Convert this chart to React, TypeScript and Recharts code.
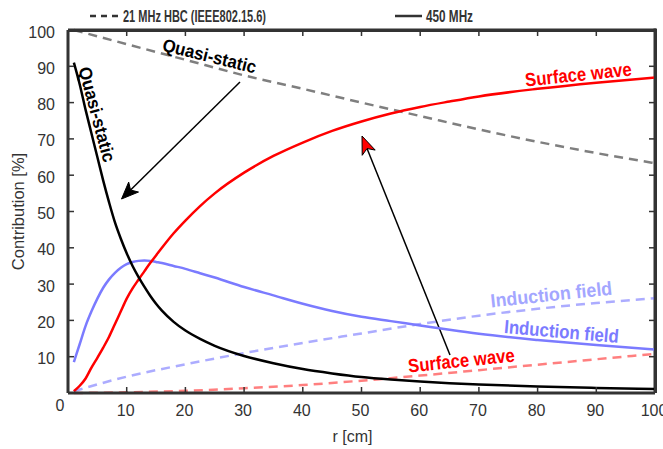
import { LineChart, Line, XAxis, YAxis, Label, Customized } from "recharts";

// 450 MHz curves (solid)
const R_450 = [1, 2, 3, 4, 5, 6, 7, 8, 9, 10, 11, 12, 13, 14, 15, 16, 18, 20, 22.5, 25, 30, 35, 40, 45, 50, 55, 60, 65, 70, 80, 90, 100];
const QUASI_STATIC_450 = [91, 85, 78, 71.5, 65, 58.5, 52.5, 47, 42.5, 38.5, 35, 32, 29.3, 26.8, 24.6, 22.7, 19.6, 17.2, 14.9, 13, 10.2, 8.2, 6.6, 5.4, 4.4, 3.7, 3.15, 2.7, 2.35, 1.8, 1.4, 1.1];
const INDUCTION_450 = [8.5, 13.5, 18.5, 22.5, 26, 29, 31.3, 33.1, 34.5, 35.5, 36.1, 36.4, 36.5, 36.4, 36.1, 35.8, 35, 34.2, 33, 31.8, 29.2, 26.9, 24.6, 22.6, 21, 19.8, 18.6, 17.4, 16.3, 14.6, 13.2, 12];
const SURFACE_450 = [0.5, 2, 4, 7, 9.7, 12.5, 15.5, 19, 22.5, 26, 28.8, 31.2, 33.5, 35.8, 37.9, 40, 44, 47.5, 51.5, 55, 60.7, 65.3, 69, 72.2, 74.8, 77, 78.8, 80.3, 81.7, 83.8, 85.5, 86.9];

// 21 MHz HBC curves (dashed)
const R_21 = [1, 10, 20, 30, 40, 50, 60, 70, 80, 90, 100];
const QUASI_STATIC_21 = [100, 96.1, 91.8, 87.5, 83.8, 80, 76.3, 72.6, 69.2, 66.1, 63.3];
const INDUCTION_21 = [0.5, 4.5, 7.9, 11, 13.8, 16.4, 19, 21.3, 23.2, 24.8, 26.1];
const SURFACE_21 = [0, 0.2, 0.6, 1.3, 2.2, 3.4, 4.8, 6.3, 7.8, 9.3, 10.8];

const X_TICKS = [0, 10, 20, 30, 40, 50, 60, 70, 80, 90, 100];
const Y_TICKS = [10, 20, 30, 40, 50, 60, 70, 80, 90, 100];
const INNER_TICKS = [10, 20, 30, 40, 50, 60, 70, 80, 90];

const W = 663;
const H = 449;
const LEFT = 68;
const RIGHT = 655;
const TOP = 30;
const BOTTOM = 393;
const AXIS = "#333";
const FONT = "'Liberation Sans', Arial, sans-serif";
const NARROW = "'Liberation Sans Narrow', 'Arial Narrow', 'Liberation Sans', Arial, sans-serif";

const rows = (rs: number[], vs: number[]) => rs.map((r, i) => ({ r, v: vs[i] }));
// frame helpers (same plot box as the chart margins give)
const fx = (v: number) => LEFT + (v / 100) * (RIGHT - LEFT);
const fy = (v: number) => BOTTOM - (v / 100) * (BOTTOM - TOP);

const BottomTick = (props: any) => {
  const { x, payload } = props;
  const v = payload.value;
  return (
    <g>
      {v > 0 && v < 100 && <line x1={x} x2={x} y1={BOTTOM} y2={BOTTOM - 6} stroke={AXIS} strokeWidth={1.5} />}
      <text x={v === 0 ? x - 8 : x - 1} y={v === 0 ? 411 : 416} textAnchor="middle" fontFamily={FONT} fontSize={16} fill={AXIS}>
        {v}
      </text>
    </g>
  );
};

const LeftTick = (props: any) => {
  const { y, payload } = props;
  const v = payload.value;
  return (
    <g>
      {v < 100 && <line x1={LEFT} x2={LEFT + 6} y1={y} y2={y} stroke={AXIS} strokeWidth={1.5} />}
      <text x={55} y={y + 7.5} textAnchor="end" fontFamily={FONT} fontSize={16} fill={AXIS}>
        {v}
      </text>
    </g>
  );
};

function Arrow({ x1, y1, x2, y2, fill, len, wid }: any) {
  const dx = x2 - x1;
  const dy = y2 - y1;
  const d = Math.hypot(dx, dy);
  const ux = dx / d;
  const uy = dy / d;
  const bx = x2 - ux * len;
  const by = y2 - uy * len;
  const nx = bx + ux * len * 0.25;
  const ny = by + uy * len * 0.25;
  const px = -uy * (wid / 2);
  const py = ux * (wid / 2);
  return (
    <g>
      <line x1={x1} y1={y1} x2={nx} y2={ny} stroke="#000" strokeWidth={1.5} />
      <polygon
        points={`${x2},${y2} ${bx + px},${by + py} ${nx},${ny} ${bx - px},${by - py}`}
        fill={fill}
        stroke="#000"
        strokeWidth={1}
      />
    </g>
  );
}

function Note({ x, y, angle, len, color, size, children }: any) {
  return (
    <text
      x={x}
      y={y}
      transform={`rotate(${angle} ${x} ${y})`}
      textAnchor="middle"
      fontFamily={NARROW}
      fontWeight="bold"
      fontSize={size}
      fill={color}
      textLength={len}
      lengthAdjust="spacingAndGlyphs"
    >
      {children}
    </text>
  );
}

function Annotations() {
  return (
    <g>
      {/* top and right sides of the box with inward ticks */}
      <rect x={LEFT} y={TOP - 1.5} width={RIGHT - LEFT + 1.5} height={3} fill={AXIS} />
      <rect x={RIGHT - 1.5} y={TOP - 1.5} width={3} height={BOTTOM - TOP + 1.5} fill={AXIS} />
      {INNER_TICKS.map((t) => (
        <rect key={`tt${t}`} x={fx(t) - 0.75} y={TOP} width={1.5} height={6} fill={AXIS} />
      ))}
      {INNER_TICKS.map((t) => (
        <rect key={`rt${t}`} x={RIGHT - 6} y={fy(t) - 0.75} width={6} height={1.5} fill={AXIS} />
      ))}

      {/* legend */}
      <line x1={90} x2={118} y1={16} y2={16} stroke={AXIS} strokeWidth={2.5} strokeDasharray="6 5" />
      <text x={123} y={22} fontFamily={NARROW} fontWeight="bold" fontSize={16.5} fill={AXIS} textLength={143} lengthAdjust="spacingAndGlyphs">
        21 MHz HBC (IEEE802.15.6)
      </text>
      <line x1={395} x2={422} y1={16} y2={16} stroke={AXIS} strokeWidth={2.5} />
      <text x={426} y={22} fontFamily={NARROW} fontWeight="bold" fontSize={16.5} fill={AXIS} textLength={47} lengthAdjust="spacingAndGlyphs">
        450 MHz
      </text>

      <Note x={91} y={116} angle={75} len={98} color="#000" size={18}>Quasi-static</Note>
      <Note x={208} y={62} angle={14} len={96} color="#000" size={18}>Quasi-static</Note>
      <Note x={579} y={81} angle={-6} len={107} color="#ff0000" size={19}>Surface wave</Note>
      <Note x={552} y={301} angle={-6} len={122} color="#a3a6ff" size={19}>Induction field</Note>
      <Note x={561} y={338} angle={5} len={115} color="#7b7bff" size={19}>Induction field</Note>
      <Note x={462} y={367} angle={-6} len={107} color="#ff0000" size={19}>Surface wave</Note>

      <Arrow x1={240} y1={82} x2={121.5} y2={199} fill="#000" len={17} wid={14} />
      <Arrow x1={450} y1={355} x2={362} y2={136} fill="#ff0000" len={18} wid={14} />
    </g>
  );
}

export default function App() {
  const dashed = { strokeWidth: 2.5, strokeDasharray: "9 6", dot: false, isAnimationActive: false, type: "monotone" as const };
  const solid = { strokeWidth: 2.5, dot: false, isAnimationActive: false, type: "monotone" as const };
  const ax = { xAxisId: "b", yAxisId: "l" };
  return (
    <div style={{ position: "absolute", left: 0, top: 0, width: W, height: H, background: "#fff" }}>
      <LineChart width={W} height={H} margin={{ top: TOP, right: W - RIGHT, left: 0, bottom: 0 }}>
        <XAxis
          xAxisId="b"
          type="number"
          dataKey="r"
          domain={[0, 100]}
          ticks={X_TICKS}
          height={H - BOTTOM}
          axisLine={{ stroke: AXIS, strokeWidth: 3 }}
          tickLine={false}
          tick={BottomTick}
          interval={0}
        >
          <Label value="r [cm]" position="insideBottom" offset={7} dx={-9} fill={AXIS} fontFamily={FONT} fontSize={16} />
        </XAxis>
        <YAxis
          yAxisId="l"
          type="number"
          domain={[0, 100]}
          ticks={Y_TICKS}
          width={LEFT}
          axisLine={{ stroke: AXIS, strokeWidth: 3 }}
          tickLine={false}
          tick={LeftTick}
          interval={0}
        >
          <Label value="Contribution [%]" angle={-90} position="insideLeft" offset={18} fill={AXIS} fontFamily={FONT} fontSize={16.5} style={{ textAnchor: "middle" }} />
        </YAxis>

        <Line {...ax} data={rows(R_21, QUASI_STATIC_21)} dataKey="v" stroke="#000" strokeOpacity={0.5} {...dashed} />
        <Line {...ax} data={rows(R_21, INDUCTION_21)} dataKey="v" stroke="#5a5aff" strokeOpacity={0.5} {...dashed} />
        <Line {...ax} data={rows(R_21, SURFACE_21)} dataKey="v" stroke="#ff0000" strokeOpacity={0.5} {...dashed} />

        <Line {...ax} data={rows(R_450, INDUCTION_450)} dataKey="v" stroke="#7b7bff" {...solid} />
        <Line {...ax} data={rows(R_450, SURFACE_450)} dataKey="v" stroke="#ff0000" {...solid} />
        <Line {...ax} data={rows(R_450, QUASI_STATIC_450)} dataKey="v" stroke="#000" {...solid} />

        <Customized component={Annotations} />
      </LineChart>
      {/* plain CSS edges as a fallback for the box */}
      <div style={{ position: "absolute", left: LEFT, top: TOP - 1.5, width: RIGHT - LEFT + 1.5, height: 3, background: AXIS }} />
      <div style={{ position: "absolute", left: RIGHT - 1.5, top: TOP - 1.5, width: 3, height: BOTTOM - TOP + 1.5, background: AXIS }} />
    </div>
  );
}
